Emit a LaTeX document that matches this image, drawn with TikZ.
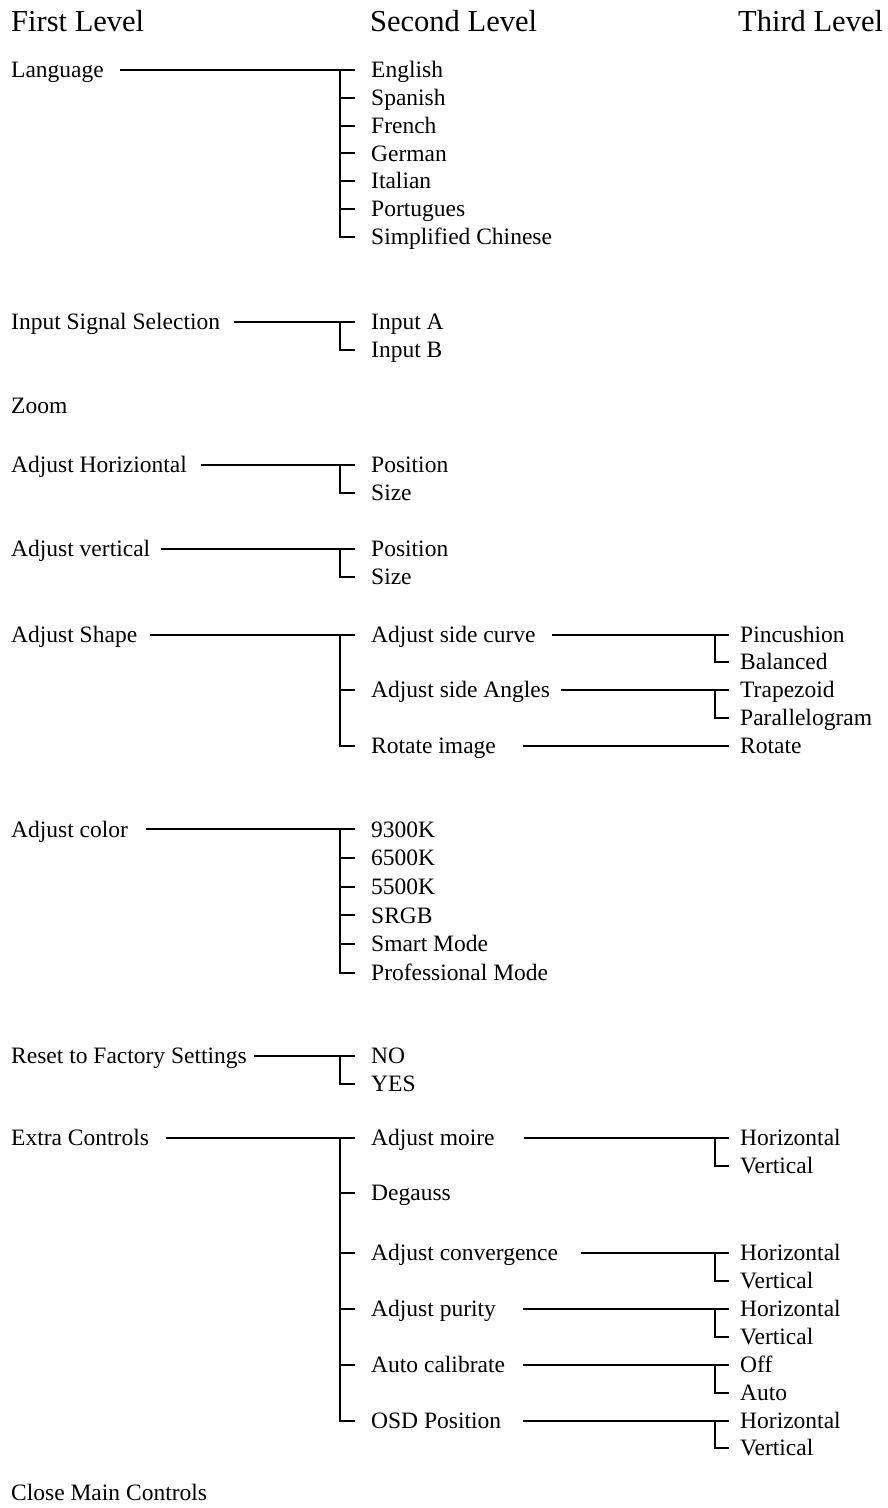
\documentclass[tikz,border=0pt]{standalone}
\usepackage{fontspec}
\setmainfont{Liberation Serif}
\begin{document}
\begin{tikzpicture}[x=1bp,y=-1bp,
  lab/.style={anchor=west,inner sep=0pt,text height=16bp,text depth=0.5bp,font=\fontsize{23.5bp}{28bp}\selectfont},
  hdr/.style={anchor=base west,inner sep=0pt,font=\fontsize{30.5bp}{36bp}\selectfont},
  conn/.style={line width=2bp,line cap=rect}]
\path[use as bounding box] (0,0) rectangle (887,1508);
\coordinate (tA) at (340,0);
\coordinate (tB) at (715,0);
% headers
\node[hdr] (h1) at (11,32) {First Level};
\node[hdr] (h2) at (370,32) {Second Level};
\node[hdr] (h3) at (738,32) {Third Level};
% ---------- Language
\node[lab] (lang) at (11,70) {Language};
\node[lab] (en) at (371,70) {English};
\node[lab] (es) at (371,97.8) {Spanish};
\node[lab] (fr) at (371,125.6) {French};
\node[lab] (de) at (371,153.4) {German};
\node[lab] (it) at (371,181.2) {Italian};
\node[lab] (pt) at (371,209) {Portugues};
\node[lab] (zh) at (371,236.8) {Simplified Chinese};
\draw[conn] ([xshift=17]lang.east) -- ([xshift=-17]en.west);
\draw[conn] (en.west -| tA) |- ([xshift=-17]zh.west);
\foreach \n in {es,fr,de,it,pt} \draw[conn] (\n.west -| tA) -- ([xshift=-17]\n.west);
% ---------- Input
\node[lab] (inp) at (11,322) {Input Signal Selection};
\node[lab] (ia) at (371,322) {Input A};
\node[lab] (ib) at (371,349.5) {Input B};
\draw[conn] ([xshift=15]inp.east) -- ([xshift=-17]ia.west);
\draw[conn] (ia.west -| tA) |- ([xshift=-17]ib.west);
% ---------- Zoom
\node[lab] (zoom) at (11,405.5) {Zoom};
% ---------- Horizontal
\node[lab] (ah) at (11,465) {Adjust Horiziontal};
\node[lab] (ahp) at (371,465) {Position};
\node[lab] (ahs) at (371,492.5) {Size};
\draw[conn] ([xshift=15]ah.east) -- ([xshift=-17]ahp.west);
\draw[conn] (ahp.west -| tA) |- ([xshift=-17]ahs.west);
% ---------- Vertical
\node[lab] (av) at (11,548.5) {Adjust vertical};
\node[lab] (avp) at (371,548.5) {Position};
\node[lab] (avs) at (371,576.5) {Size};
\draw[conn] ([xshift=12]av.east) -- ([xshift=-17]avp.west);
\draw[conn] (avp.west -| tA) |- ([xshift=-17]avs.west);
% ---------- Shape
\node[lab] (as) at (11,634.5) {Adjust Shape};
\node[lab] (asc) at (371,634.5) {Adjust side curve};
\node[lab] (asa) at (371,690) {Adjust side Angles};
\node[lab] (ari) at (371,746) {Rotate image};
\node[lab] (pin) at (740,634.5) {Pincushion};
\node[lab] (bal) at (740,662) {Balanced};
\node[lab] (tra) at (740,690) {Trapezoid};
\node[lab] (par) at (740,718) {Parallelogram};
\node[lab] (rot) at (740,746) {Rotate};
\draw[conn] ([xshift=14]as.east) -- ([xshift=-17]asc.west);
\draw[conn] (asc.west -| tA) |- ([xshift=-17]ari.west);
\draw[conn] (asa.west -| tA) -- ([xshift=-17]asa.west);
\draw[conn] ([xshift=17]asc.east) -- ([xshift=-12]pin.west);
\draw[conn] (pin.west -| tB) |- ([xshift=-12]bal.west);
\draw[conn] ([xshift=12]asa.east) -- ([xshift=-12]tra.west);
\draw[conn] (tra.west -| tB) |- ([xshift=-12]par.west);
\draw[conn] ([xshift=28]ari.east) -- ([xshift=-12]rot.west);
% ---------- Color
\node[lab] (ac) at (11,829.3) {Adjust color};
\node[lab] (c1) at (371,829.3) {9300K};
\node[lab] (c2) at (371,858) {6500K};
\node[lab] (c3) at (371,886.7) {5500K};
\node[lab] (c4) at (371,915.4) {SRGB};
\node[lab] (c5) at (371,944.1) {Smart Mode};
\node[lab] (c6) at (371,972.8) {Professional Mode};
\draw[conn] ([xshift=19]ac.east) -- ([xshift=-17]c1.west);
\draw[conn] (c1.west -| tA) |- ([xshift=-17]c6.west);
\foreach \n in {c2,c3,c4,c5} \draw[conn] (\n.west -| tA) -- ([xshift=-17]\n.west);
% ---------- Reset
\node[lab] (rs) at (11,1056) {Reset to Factory Settings};
\node[lab] (no) at (371,1056) {NO};
\node[lab] (yes) at (371,1084) {YES};
\draw[conn] ([xshift=8]rs.east) -- ([xshift=-17]no.west);
\draw[conn] (no.west -| tA) |- ([xshift=-17]yes.west);
% ---------- Extra controls
\node[lab] (ex) at (11,1138) {Extra Controls};
\node[lab] (am) at (371,1138) {Adjust moire};
\node[lab] (dg) at (371,1192.5) {Degauss};
\node[lab] (acv) at (371,1253) {Adjust convergence};
\node[lab] (apu) at (371,1309) {Adjust purity};
\node[lab] (aca) at (371,1365) {Auto calibrate};
\node[lab] (osd) at (371,1420.5) {OSD Position};
\node[lab] (m1) at (740,1138) {Horizontal};
\node[lab] (m2) at (740,1166) {Vertical};
\node[lab] (v1) at (740,1253) {Horizontal};
\node[lab] (v2) at (740,1281) {Vertical};
\node[lab] (p1) at (740,1309) {Horizontal};
\node[lab] (p2) at (740,1337) {Vertical};
\node[lab] (a1) at (740,1365) {Off};
\node[lab] (a2) at (740,1393) {Auto};
\node[lab] (o1) at (740,1420.5) {Horizontal};
\node[lab] (o2) at (740,1448) {Vertical};
\draw[conn] ([xshift=18]ex.east) -- ([xshift=-17]am.west);
\draw[conn] (am.west -| tA) |- ([xshift=-17]osd.west);
\foreach \n in {dg,acv,apu,aca} \draw[conn] (\n.west -| tA) -- ([xshift=-17]\n.west);
\draw[conn] ([xshift=30]am.east) -- ([xshift=-12]m1.west);
\draw[conn] (m1.west -| tB) |- ([xshift=-12]m2.west);
\draw[conn] ([xshift=24]acv.east) -- ([xshift=-12]v1.west);
\draw[conn] (v1.west -| tB) |- ([xshift=-12]v2.west);
\draw[conn] ([xshift=28]apu.east) -- ([xshift=-12]p1.west);
\draw[conn] (p1.west -| tB) |- ([xshift=-12]p2.west);
\draw[conn] ([xshift=19]aca.east) -- ([xshift=-12]a1.west);
\draw[conn] (a1.west -| tB) |- ([xshift=-12]a2.west);
\draw[conn] ([xshift=23]osd.east) -- ([xshift=-12]o1.west);
\draw[conn] (o1.west -| tB) |- ([xshift=-12]o2.west);
% ---------- Close
\node[lab] (close) at (11,1493) {Close Main Controls};
\end{tikzpicture}
\end{document}
